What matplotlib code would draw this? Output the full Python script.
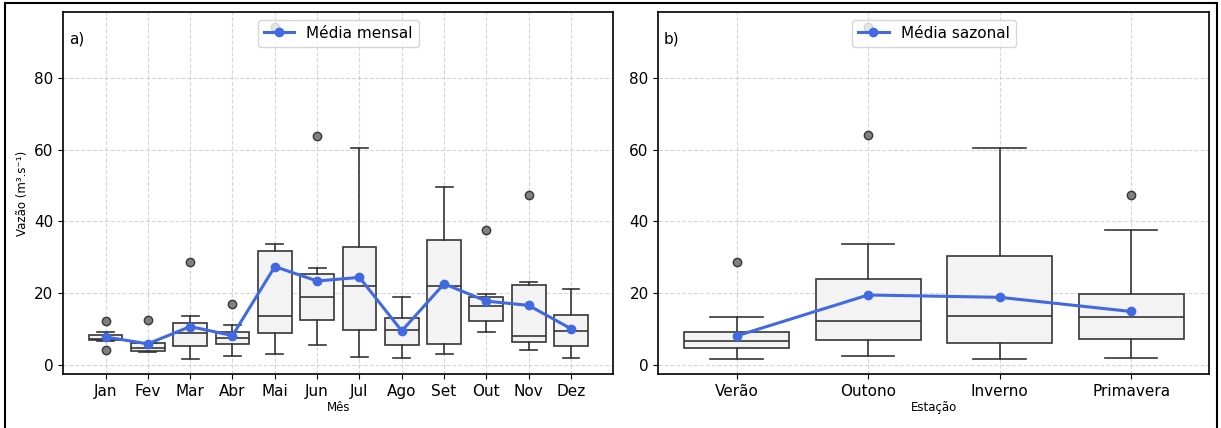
import numpy as np
import matplotlib.pyplot as plt
from matplotlib.patches import Rectangle

# Vazão mensal: estatísticas de cada caixa
meses = ["Jan", "Fev", "Mar", "Abr", "Mai", "Jun", "Jul", "Ago", "Set", "Out", "Nov", "Dez"]
mes_q1 = [6.9, 3.9, 5.2, 5.9, 8.8, 12.5, 9.8, 5.5, 5.95, 12.25, 6.4, 5.2]
mes_med = [7.15, 4.8, 9.0, 7.4, 13.55, 18.85, 22.0, 9.8, 22.1, 16.3, 8.2, 9.5]
mes_q3 = [8.25, 6.2, 11.8, 9.3, 31.8, 25.3, 32.9, 13.2, 34.8, 18.85, 22.2, 13.9]
mes_wlo = [6.8, 3.6, 1.75, 2.6, 3.05, 5.5, 2.2, 1.85, 2.95, 9.1, 4.2, 2.0]
mes_whi = [9.1, 6.2, 13.55, 11.05, 33.6, 27.0, 60.3, 19.0, 49.7, 19.8, 23.1, 21.1]
mes_out = [[12.3, 4.2], [12.5], [28.8], [17.1], [94.2], [63.9], [], [], [], [37.6], [47.2], []]
mes_media = [7.8, 5.9, 10.7, 8.2, 27.4, 23.4, 24.4, 9.5, 22.6, 17.8, 16.6, 10.1]

# Vazão sazonal
estacoes = ["Verão", "Outono", "Inverno", "Primavera"]
est_q1 = [4.6, 6.9, 6.2, 7.15]
est_med = [6.7, 12.25, 13.7, 13.45]
est_q3 = [9.1, 23.9, 30.4, 19.7]
est_wlo = [1.75, 2.5, 1.75, 2.0]
est_whi = [13.45, 33.6, 60.3, 37.5]
est_out = [[28.8], [64.0, 94.2], [], [47.2]]
est_media = [8.1, 19.5, 18.85, 14.9]

azul = "#4169E1"
borda = "#363636"


def make_stats(labels, q1, med, q3, wlo, whi, out):
    return [dict(label=l, q1=a, med=m, q3=b, whislo=lo, whishi=hi, fliers=f)
            for l, a, m, b, lo, hi, f in zip(labels, q1, med, q3, wlo, whi, out)]


def draw_panel(ax, labels, stats, media, legenda, letra, xlabel, xlim):
    pos = np.arange(len(labels))
    ax.bxp(stats, positions=pos, widths=0.8, patch_artist=True, showfliers=True,
           boxprops=dict(facecolor="#f3f3f3", edgecolor=borda, linewidth=1.2),
           medianprops=dict(color=borda, linewidth=1.2),
           whiskerprops=dict(color=borda, linewidth=1.2),
           capprops=dict(color=borda, linewidth=1.2),
           flierprops=dict(marker="o", markerfacecolor="#808080", markeredgecolor=borda,
                           markersize=6, linestyle="none"),
           manage_ticks=False, zorder=2)
    ax.plot(pos, media, "-o", color=azul, lw=2.2, ms=6, label=legenda, zorder=3)
    ax.set_xticks(pos)
    ax.set_xticklabels(labels, fontsize=11)
    ax.tick_params(axis="y", labelsize=11)
    ax.set_yticks([0, 20, 40, 60, 80])
    ax.set_xlim(*xlim)
    ax.set_ylim(-2.5, 98.3)
    ax.set_xlabel(xlabel, fontsize=8.5, labelpad=2)
    ax.grid(True, linestyle="--", color="#cccccc", alpha=0.8, zorder=0)
    ax.set_axisbelow(True)
    ax.legend(loc="upper center", fontsize=11)
    ax.text(0.01, 0.925, letra, transform=ax.transAxes, fontsize=11, va="center")
    for s in ax.spines.values():
        s.set_linewidth(1.2)


fig = plt.figure(figsize=(12.21, 4.28), dpi=100)
ax1 = fig.add_axes([0.0518, 0.1262, 0.4505, 0.8458])
ax2 = fig.add_axes([0.5392, 0.1262, 0.4513, 0.8458])

draw_panel(ax1, meses, make_stats(meses, mes_q1, mes_med, mes_q3, mes_wlo, mes_whi, mes_out),
           mes_media, "Média mensal", "a)", "Mês", (-1.0, 12.0))
ax1.set_ylabel("Vazão (m³.s⁻¹)", fontsize=8.5)

draw_panel(ax2, estacoes, make_stats(estacoes, est_q1, est_med, est_q3, est_wlo, est_whi, est_out),
           est_media, "Média sazonal", "b)", "Estação", (-0.595, 3.595))

# moldura externa
fig.patches.append(Rectangle((5 / 1221, -0.05), 1212 / 1221, 1.05 - 3.5 / 428,
                             transform=fig.transFigure, fill=False, edgecolor="black",
                             linewidth=1.5, zorder=10))

fig.savefig("out.png", dpi=100)
